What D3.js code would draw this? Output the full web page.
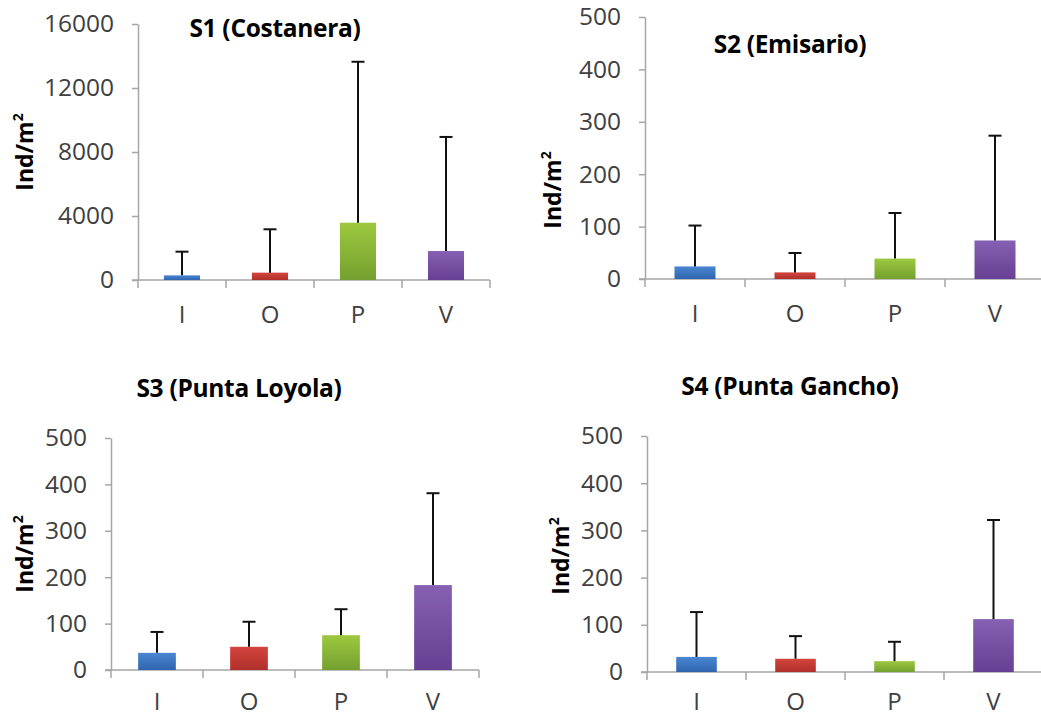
<!DOCTYPE html>
<html>
<head>
<meta charset="utf-8">
<script src="https://cdn.jsdelivr.net/npm/d3@7"></script>
<style>
  body { margin: 0; background: #fff; }
  svg { display: block; }
</style>
</head>
<body>
<script>
// Seasons on the x axis
const seasons = ["I", "O", "P", "V"];

// Mean density (Ind/m2) per station and season
const s1Means = [290, 460, 3580, 1810];
const s2Means = [24, 12.6, 39, 73.5];
const s3Means = [37, 50, 75, 183];
const s4Means = [32, 28, 23, 112];

// Standard deviation (drawn as upper error bar)
const s1Sd = [1480, 2710, 10060, 7130];
const s2Sd = [78, 37, 87, 200];
const s3Sd = [45, 54, 56, 198];
const s4Sd = [95, 48, 41, 210];

// Y tick labels
const s1Ticks = [0, 4000, 8000, 12000, 16000];
const otherTicks = [0, 100, 200, 300, 400, 500];

const width = 1041;
const height = 717;

const svg = d3.select("body").append("svg")
    .attr("width", width)
    .attr("height", height)
    .attr("viewBox", [0, 0, width, height]);

// Excel-like gradient fills, one per season
const colors = [
  {top: "#4a86d2", bottom: "#2f65ae"},
  {top: "#d4443e", bottom: "#b0302b"},
  {top: "#9dc83e", bottom: "#74a030"},
  {top: "#8660b3", bottom: "#673f94"}
];
const defs = svg.append("defs");
colors.forEach((c, i) => {
  const g = defs.append("linearGradient")
      .attr("id", "grad" + i)
      .attr("x1", 0).attr("y1", 0).attr("x2", 0).attr("y2", 1);
  g.append("stop").attr("offset", "0%").attr("stop-color", c.top);
  g.append("stop").attr("offset", "100%").attr("stop-color", c.bottom);
});

const font = "'Open Sans', 'Liberation Sans', sans-serif";

function drawPanel(p) {
  const x = d3.scaleBand()
      .domain(seasons)
      .range([p.left, p.right])
      .paddingInner(0.59)
      .paddingOuter(0.295);

  const y = d3.scaleLinear()
      .domain([0, d3.max(p.ticks)])
      .range([p.bottom, p.top]);

  const g = svg.append("g");

  // y axis
  g.append("g")
      .attr("transform", `translate(${p.left},0)`)
      .call(d3.axisLeft(y).tickValues(p.ticks).tickFormat(d3.format("d"))
          .tickSize(6).tickSizeOuter(0).tickPadding(18))
      .call(a => a.selectAll("path, line").attr("stroke", "#a6a6a6").attr("stroke-width", 1.5))
      .call(a => a.selectAll("text")
          .attr("font-family", font)
          .attr("font-size", 24.5)
          .attr("fill", "#404040"));

  // x axis line with tick marks between categories
  const step = x.step();
  g.append("line")
      .attr("x1", p.left - 6).attr("x2", p.right)
      .attr("y1", p.bottom).attr("y2", p.bottom)
      .attr("stroke", "#a6a6a6").attr("stroke-width", 1.5);
  g.selectAll(".xtick")
    .data(d3.range(seasons.length + 1))
    .join("line")
      .attr("x1", i => p.left + i * step)
      .attr("x2", i => p.left + i * step)
      .attr("y1", p.bottom)
      .attr("y2", p.bottom + 8)
      .attr("stroke", "#a6a6a6").attr("stroke-width", 1.5);

  g.selectAll(".xlab")
    .data(seasons)
    .join("text")
      .attr("x", d => x(d) + x.bandwidth() / 2)
      .attr("y", p.bottom + p.labelDy)
      .attr("text-anchor", "middle")
      .attr("font-family", font)
      .attr("font-size", 24)
      .attr("fill", "#404040")
      .text(d => d);

  const rows = seasons.map((s, i) => ({season: s, mean: p.means[i], sd: p.sd[i], i}));

  // bars
  g.selectAll(".bar")
    .data(rows)
    .join("rect")
      .attr("x", d => x(d.season))
      .attr("y", d => y(d.mean))
      .attr("width", x.bandwidth())
      .attr("height", d => y(0) - y(d.mean))
      .attr("fill", d => `url(#grad${d.i})`);

  // upper error bars
  const cap = 6.5;
  const err = g.append("g")
      .attr("stroke", "#111")
      .attr("stroke-width", 2);
  err.selectAll(".stem")
    .data(rows)
    .join("line")
      .attr("x1", d => x(d.season) + x.bandwidth() / 2)
      .attr("x2", d => x(d.season) + x.bandwidth() / 2)
      .attr("y1", d => y(d.mean))
      .attr("y2", d => y(d.mean + d.sd));
  err.selectAll(".cap")
    .data(rows)
    .join("line")
      .attr("x1", d => x(d.season) + x.bandwidth() / 2 - cap)
      .attr("x2", d => x(d.season) + x.bandwidth() / 2 + cap)
      .attr("y1", d => y(d.mean + d.sd))
      .attr("y2", d => y(d.mean + d.sd));

  // title
  g.append("text")
      .attr("x", p.titleX)
      .attr("y", p.titleY)
      .attr("text-anchor", "middle")
      .attr("font-family", font)
      .attr("font-weight", "bold")
      .attr("font-size", 24.5)
      .attr("letter-spacing", -0.3)
      .attr("fill", "#000")
      .text(p.title);

  // y axis label
  const lab = g.append("text")
      .attr("transform", `translate(${p.labelX},${p.labelY}) rotate(-90)`)
      .attr("text-anchor", "middle")
      .attr("font-family", font)
      .attr("font-weight", "bold")
      .attr("font-size", 23)
      .attr("fill", "#000");
  lab.append("tspan").text("Ind/m");
  lab.append("tspan")
      .attr("font-size", 14)
      .attr("dy", -10)
      .text("2");
}

drawPanel({title: "S1 (Costanera)", means: s1Means, sd: s1Sd, ticks: s1Ticks, labelDy: 43,
  left: 138, right: 490, top: 24, bottom: 280, titleX: 275, titleY: 37, labelX: 33, labelY: 152});
drawPanel({title: "S2 (Emisario)", means: s2Means, sd: s2Sd, ticks: otherTicks, labelDy: 43,
  left: 645, right: 1045, top: 17, bottom: 279, titleX: 790, titleY: 53, labelX: 561, labelY: 190});
drawPanel({title: "S3 (Punta Loyola)", means: s3Means, sd: s3Sd, ticks: otherTicks, labelDy: 40,
  left: 111, right: 479, top: 438, bottom: 670, titleX: 239, titleY: 397, labelX: 33, labelY: 554});
drawPanel({title: "S4 (Punta Gancho)", means: s4Means, sd: s4Sd, ticks: otherTicks, labelDy: 38,
  left: 647, right: 1043, top: 436, bottom: 672, titleX: 790, titleY: 395, labelX: 569, labelY: 556});
</script>
</body>
</html>
